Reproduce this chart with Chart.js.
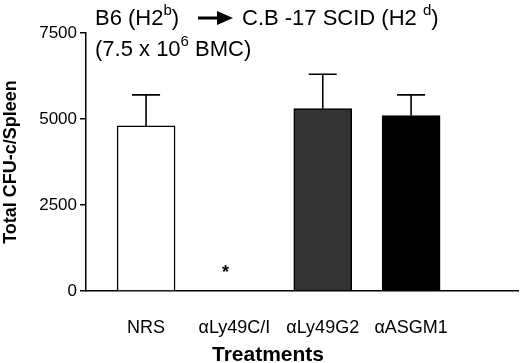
<!DOCTYPE html>
<html>
<head>
<meta charset="utf-8">
<script src="https://cdn.jsdelivr.net/npm/chart.js@4/dist/chart.umd.min.js"></script>
<style>
  html, body { margin: 0; padding: 0; background: #fff; }
  #wrap { width: 520px; height: 363px; }
</style>
</head>
<body>
<div id="wrap"><canvas id="c" width="520" height="363"></canvas></div>
<script>
// data
const categories = ['NRS', 'αLy49C/I', 'αLy49G2', 'αASGM1'];
const cfuMeans = [4800, 0, 5300, 5100];
const cfuErrors = [900, 0, 1000, 600];
const barColors = ['#ffffff', '#ffffff', '#333333', '#000000'];
const yTicks = [0, 2500, 5000, 7500];
const starIndex = 1;      // significance marker on αLy49C/I
const starValue = 700;

const FONT = 'Arial, "Liberation Sans", Helvetica, sans-serif';

// error bars (upper only) plus the asterisk
const errorBars = {
    id: 'errorBars',
    afterDatasetsDraw(chart) {
        const ctx = chart.ctx;
        const meta = chart.getDatasetMeta(0);
        const y = chart.scales.y;
        ctx.save();
        ctx.strokeStyle = '#000';
        ctx.lineWidth = 1.6;
        meta.data.forEach((bar, i) => {
            if (!cfuErrors[i]) return;
            const top = y.getPixelForValue(cfuMeans[i] + cfuErrors[i]);
            ctx.beginPath();
            ctx.moveTo(bar.x, bar.y);
            ctx.lineTo(bar.x, top);
            ctx.moveTo(bar.x - 14, top);
            ctx.lineTo(bar.x + 14, top);
            ctx.stroke();
        });
        // asterisk
        const sx = chart.scales.x.getPixelForValue(starIndex) - 9;
        const sy = y.getPixelForValue(starValue);
        ctx.fillStyle = '#000';
        ctx.font = 'bold 18px ' + FONT;
        ctx.textAlign = 'center';
        ctx.textBaseline = 'alphabetic';
        ctx.fillText('*', sx, sy + 11);
        ctx.restore();
    }
};

// header text, arrow, x title
const annotations = {
    id: 'annotations',
    afterDraw(chart) {
        const ctx = chart.ctx;
        ctx.save();
        ctx.fillStyle = '#000';
        ctx.textBaseline = 'alphabetic';
        ctx.textAlign = 'left';

        function run(parts, x, y) {
            parts.forEach(p => {
                ctx.font = (p.sup ? '15px ' : '22px ') + FONT;
                const dy = p.sup ? -10 : 0;
                ctx.fillText(p.t, x, y + dy);
                x += ctx.measureText(p.t).width;
            });
            return x;
        }

        run([{t: 'B6 (H2'}, {t: 'b', sup: true}, {t: ')'}], 95, 25);

        // heavy arrow
        ctx.beginPath();
        ctx.lineWidth = 3;
        ctx.strokeStyle = '#000';
        ctx.moveTo(198, 18);
        ctx.lineTo(220, 18);
        ctx.stroke();
        ctx.beginPath();
        ctx.moveTo(233, 18);
        ctx.lineTo(217, 11);
        ctx.lineTo(217, 25);
        ctx.closePath();
        ctx.fill();

        run([{t: 'C.B -17 SCID (H2 '}, {t: 'd', sup: true}, {t: ')'}], 242, 25);
        run([{t: '(7.5 x 10'}, {t: '6', sup: true}, {t: ' BMC)'}], 95, 56);

        ctx.font = 'bold 21px ' + FONT;
        ctx.textAlign = 'center';
        ctx.fillText('Treatments', 268, 361);
        ctx.restore();
    }
};

new Chart(document.getElementById('c'), {
    type: 'bar',
    data: {
        datasets: [{
            data: cfuMeans.map((v, i) => ({x: i, y: v})),
            backgroundColor: barColors,
            borderColor: '#000',
            borderWidth: 1.5,
            borderSkipped: 'bottom',
            barThickness: 58
        }]
    },
    options: {
        responsive: false,
        animation: false,
        events: [],
        layout: { padding: { top: 33, right: 2, left: 0, bottom: 0 } },
        plugins: { legend: { display: false }, tooltip: { enabled: false } },
        scales: {
            x: {
                type: 'linear',
                bounds: 'data',
                offset: false,
                min: -0.68,
                max: 4.21,
                afterFit(scale) { scale.height = 72; },
                afterBuildTicks(scale) {
                    scale.ticks = categories.map((c, i) => ({value: i}));
                },
                grid: { display: false, offset: false },
                border: { display: true, color: '#000', width: 1.5 },
                ticks: {
                    autoSkip: false,
                    maxRotation: 0,
                    padding: 18,
                    color: '#000',
                    font: { family: FONT, size: 18 },
                    callback: v => categories[v] || ''
                }
            },
            y: {
                min: 0,
                max: 7500,
                afterFit(scale) { scale.width = 86; },
                afterBuildTicks(scale) {
                    scale.ticks = yTicks.map(v => ({value: v}));
                },
                grid: { drawOnChartArea: false, drawTicks: true, tickLength: 6, color: '#000', lineWidth: 1.5 },
                border: { display: true, color: '#000', width: 1.5 },
                ticks: {
                    padding: 3,
                    color: '#000',
                    callback: v => String(v),
                    font: { family: FONT, size: 17 }
                },
                title: {
                    display: true,
                    text: 'Total CFU-c/Spleen',
                    color: '#000',
                    font: { family: FONT, size: 18, weight: 'bold' },
                    padding: { top: 0, bottom: 0 }
                }
            }
        }
    },
    plugins: [errorBars, annotations]
});
</script>
</body>
</html>
